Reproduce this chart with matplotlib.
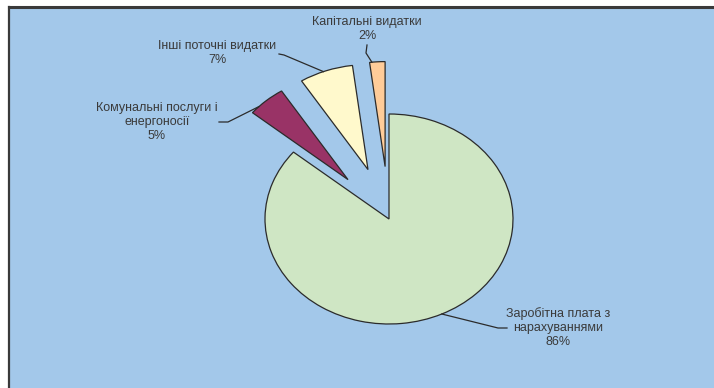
import matplotlib
matplotlib.use("Agg")
import matplotlib.pyplot as plt
import numpy as np
from matplotlib.patches import Rectangle
from matplotlib.lines import Line2D

categories = ["Заробітна плата з\nнарахуваннями", "Комунальні послуги і\nенергоносії",
              "Інші поточні видатки", "Капітальні видатки"]
values = [86, 5, 7, 2]
colors = ["#CFE6C4", "#993366", "#FFF9CC", "#FFCC99"]
explode = [0.0, 0.5, 0.5, 0.5]

W, H = 714, 388
fig = plt.figure(figsize=(W / 100, H / 100), dpi=100)
fig.patch.set_facecolor("white")

# background panel
panel_left, panel_top = 9 / W, 1 - 7 / H
fig.patches.append(Rectangle((panel_left, 0), 1 - panel_left, panel_top,
                             transform=fig.transFigure, facecolor="#A3C8EA",
                             edgecolor="none", zorder=-2))
fig.lines.append(Line2D([panel_left, 1], [panel_top, panel_top], transform=fig.transFigure,
                        color="#3a3a3a", lw=2.2, zorder=-1))
fig.lines.append(Line2D([panel_left, panel_left], [0, panel_top], transform=fig.transFigure,
                        color="#3a3a3a", lw=1.6, zorder=-1))

# pie axes: center at pixel (389, 219), rx=124 px, ry=105 px
cx, cy, rx, ry = 389, 219, 124, 105
ax = fig.add_axes([0, 0, 1, 1])
ax.set_zorder(5)
ax.patch.set_alpha(0)
wedges, _ = ax.pie(values, colors=colors, explode=explode, startangle=90,
                   counterclock=False, radius=1.0,
                   wedgeprops=dict(edgecolor="#2b2b2b", linewidth=0.9))
ax.set_aspect("auto")
ax.set_xlim(-cx / rx, (W - cx) / rx)
ax.set_ylim(-(H - cy) / ry, cy / ry)
ax.axis("off")


def px(x, y):
    return ((x - cx) / rx, (cy - y) / ry)


def arc_point(w, frac):
    t1, t2 = w.theta1, w.theta2
    a = np.deg2rad(t1 + (t2 - t1) * frac)
    c = w.center
    return (c[0] + w.r * np.cos(a), c[1] + w.r * np.sin(a))


labels = [f"{c}\n{v}%" for c, v in zip(categories, values)]
text_pos = [(558, 328), (157, 122), (217, 53), (367, 29)]
elbow = [((507, 328), (498, 328)), ((219, 122), (228, 122)),
         ((279, 54), (284, 55)), ((367, 45), (366, 53))]
arc_frac = [0.5, 0.75, 0.55, 0.85]

for w, lab, tp, (p1, p2), fr in zip(wedges, labels, text_pos, elbow, arc_frac):
    ax.text(*px(*tp), lab, ha="center", va="center", fontsize=9,
            family=["Liberation Sans", "DejaVu Sans"], color="#3a3a3a",
            linespacing=1.22)
    a = arc_point(w, fr)
    pts = [px(*p1), px(*p2), a]
    ax.plot([p[0] for p in pts], [p[1] for p in pts], color="#2b2b2b", lw=0.9)

fig.savefig("out.png", dpi=100)
